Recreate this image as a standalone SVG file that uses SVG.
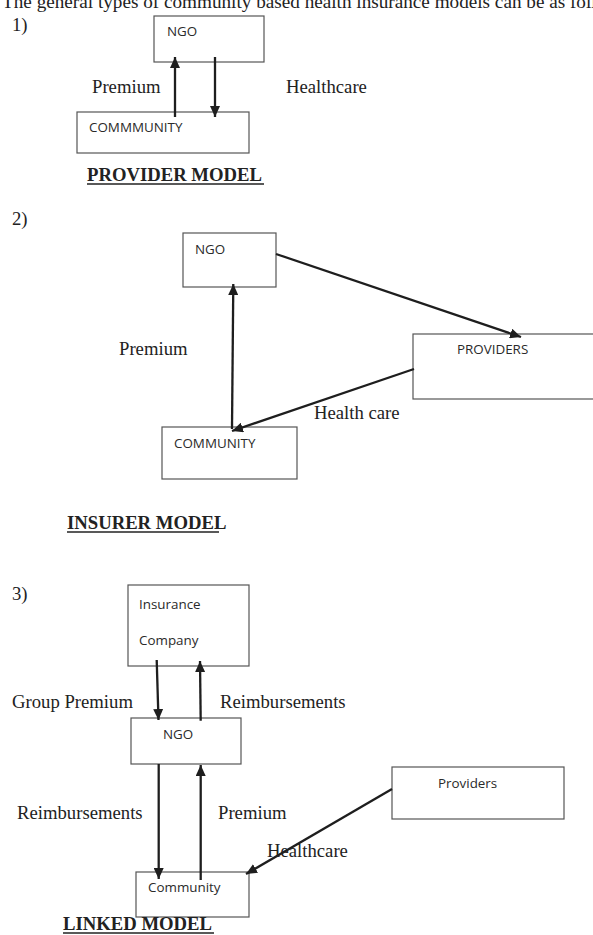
<svg xmlns="http://www.w3.org/2000/svg" width="593" height="935" viewBox="0 0 593 935">
<defs>
<marker id="ah" markerUnits="userSpaceOnUse" markerWidth="12" markerHeight="10" refX="11" refY="5" orient="auto">
<path d="M0,0 L11,5 L0,10 z" fill="#1e1e1e"/>
</marker>
<style>
.box{fill:#fff;stroke:#555;stroke-width:1.2}
.bl{font-family:"Open Sans","Liberation Sans",sans-serif;font-size:13.4px;fill:#2a2a2a}
.lb{font-family:"Liberation Serif","Times New Roman",serif;font-size:18.7px;fill:#222}
.hd{font-family:"Liberation Serif","Times New Roman",serif;font-size:18.7px;font-weight:bold;fill:#222}
.ul{stroke:#222;stroke-width:1.5}
.cn{stroke:#1e1e1e;stroke-width:2.3;fill:none;marker-end:url(#ah)}
</style>
</defs>
<rect width="593" height="935" fill="#fff"/>
<text class="lb" x="2" y="8" style="font-size:19.2px">The general types of community based health insurance models can be as follows:</text>

<!-- Model 1 -->
<text class="lb" x="12" y="31">1)</text>
<g id="m1-ngo"><rect class="box" x="154" y="16" width="110" height="46"/><text class="bl" x="167" y="36">NGO</text></g>
<g id="m1-community"><rect class="box" x="77" y="112" width="172" height="41"/><text class="bl" x="89" y="132">COMMMUNITY</text></g>
<g id="m1-connectors">
<line class="cn" x1="175" y1="117" x2="175" y2="57"/>
<line class="cn" x1="215" y1="57" x2="215" y2="117"/>
</g>
<text class="lb" x="92" y="93">Premium</text>
<text class="lb" x="286" y="93">Healthcare</text>
<text class="hd" x="87" y="181">PROVIDER MODEL</text>
<line class="ul" x1="87" y1="184" x2="264" y2="184"/>

<!-- Model 2 -->
<text class="lb" x="12" y="225">2)</text>
<g id="m2-ngo"><rect class="box" x="183" y="233" width="93" height="54"/><text class="bl" x="195" y="254">NGO</text></g>
<g id="m2-providers"><rect class="box" x="413" y="334" width="200" height="65"/><text class="bl" x="457" y="354">PROVIDERS</text></g>
<g id="m2-community"><rect class="box" x="162" y="427" width="135" height="52"/><text class="bl" x="174" y="448">COMMUNITY</text></g>
<g id="m2-connectors">
<line class="cn" x1="232" y1="429" x2="233.3" y2="284"/>
<line class="cn" x1="276" y1="254" x2="521" y2="337"/>
<line class="cn" x1="414" y1="369" x2="232" y2="431"/>
</g>
<text class="lb" x="119" y="355">Premium</text>
<text class="lb" x="314" y="419">Health care</text>
<text class="hd" x="67" y="529">INSURER MODEL</text>
<line class="ul" x1="67" y1="532" x2="219" y2="532"/>

<!-- Model 3 -->
<text class="lb" x="12" y="600">3)</text>
<g id="m3-insurance"><rect class="box" x="128" y="585" width="121" height="81"/><text class="bl" x="139" y="609">Insurance</text><text class="bl" x="139" y="645">Company</text></g>
<g id="m3-ngo"><rect class="box" x="131" y="718" width="110" height="46"/><text class="bl" x="163" y="739">NGO</text></g>
<g id="m3-providers"><rect class="box" x="392" y="767" width="172" height="52"/><text class="bl" x="438" y="788">Providers</text></g>
<g id="m3-community"><rect class="box" x="136" y="872" width="113" height="45"/><text class="bl" x="148" y="892">Community</text></g>
<g id="m3-connectors">
<line class="cn" x1="156.7" y1="660" x2="158.5" y2="720"/>
<line class="cn" x1="200.7" y1="720.7" x2="200" y2="661"/>
<line class="cn" x1="158.7" y1="764" x2="158.7" y2="879"/>
<line class="cn" x1="200.7" y1="880" x2="200.7" y2="765"/>
<line class="cn" x1="392" y1="789" x2="246" y2="874"/>
</g>
<text class="lb" x="12" y="708">Group Premium</text>
<text class="lb" x="220" y="708">Reimbursements</text>
<text class="lb" x="17" y="819">Reimbursements</text>
<text class="lb" x="218" y="819">Premium</text>
<text class="lb" x="267" y="857">Healthcare</text>
<text class="hd" x="63" y="930">LINKED MODEL</text>
<line class="ul" x1="63" y1="933" x2="214" y2="933"/>
</svg>
